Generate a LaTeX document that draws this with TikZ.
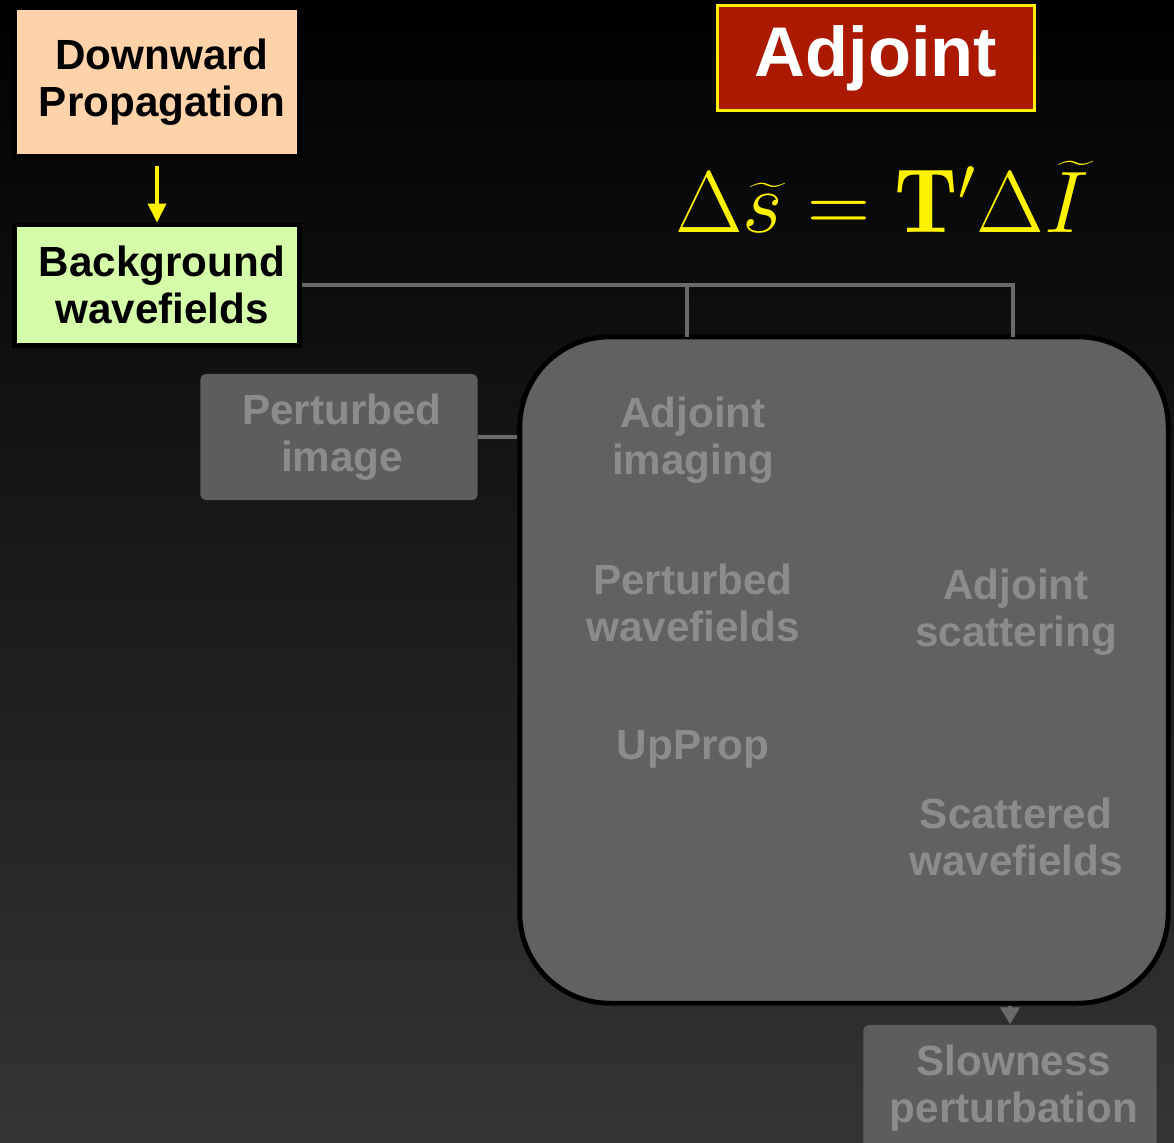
\documentclass[tikz,border=0pt]{standalone}
\usepackage{fontspec}
\newfontfamily\boxfont{Liberation Sans}
\usetikzlibrary{positioning,arrows.meta}
\definecolor{Peach}{HTML}{FFD3AA}
\definecolor{Lime}{HTML}{D5FCA9}
\definecolor{Brick}{HTML}{AA1900}
\definecolor{Ash}{HTML}{5D5D5D}
\definecolor{Slate}{HTML}{606261}
\definecolor{Fog}{HTML}{8C8C8C}
\definecolor{Wire}{HTML}{6A6A6A}
\definecolor{Floor}{HTML}{343434}

\begin{document}
\begin{tikzpicture}[x=0.01cm,y=-0.01cm,
    every node/.style={font=\boxfont\bfseries\fontsize{12}{13.4}\selectfont,align=center,inner sep=0pt},
    litbox/.style={draw=black,line width=1.4pt,minimum width=2.84cm},
    dimbox/.style={fill=Ash,rounded corners=1.5pt,text=Fog},
    link/.style={Wire,line width=1.1pt}]
    % backdrop
    \shade[top color=black,bottom color=Floor] (0,0) rectangle (1174,1142);
    \clip (0,0) rectangle (1174,1142);

    \node[litbox,fill=Peach,minimum height=1.48cm,text width=2.84cm] (dprop) at (157,82)
      {\hspace*{0.1cm}Downward\\\hspace*{0.1cm}Propagation};
    \node[litbox,fill=Lime,minimum height=1.2cm,text width=2.84cm] (bgwave) at (157,285)
      {\hspace*{0.1cm}Background\\\hspace*{0.1cm}wavefields};

    \node[fill=Brick,draw=yellow,line width=0.85pt,minimum width=3.16cm,minimum height=1.04cm,
      text=white,font=\boxfont\bfseries\fontsize{20}{24}\selectfont] (adjtitle) at (876,58) {Adjoint};
    \node[text=yellow,font=\fontsize{26}{30}\selectfont] (equ) at (882,197)
      {$\Delta\widetilde{s}=\mathbf{T}'\Delta\widetilde{I}$};

    \node[dimbox,minimum width=2.77cm,minimum height=1.26cm] (pimg) at (339,437) {\hspace*{0.06cm}Perturbed\\\hspace*{0.06cm}image};
    \node[draw=black,line width=1.4pt,fill=Slate,rounded corners=0.9cm,
      minimum width=6.48cm,minimum height=6.66cm] (bigbox) at (844,670) {};
    \foreach \name/\x/\y/\label in {adjimg/693/440/Adjoint\\imaging,pwave/693/603/Perturbed\\wavefields,
      upprop/693/749/UpProp,adjscat/1016/612/Adjoint\\scattering,swave/1016/837/Scattered\\wavefields}{
      \node[text=Fog] (\name) at (\x,\y) {\label};
    }
    \node[dimbox,minimum width=2.93cm,minimum height=1.26cm] (slow) at (1010,1088)
      {\hspace*{0.08cm}Slowness\\\hspace*{0.08cm}perturbation};

    % connectors
    \coordinate (tapL) at (687,337);
    \coordinate (tapR) at (1013,337);
    \draw[yellow,line width=1.1pt,-{Triangle[width=0.18cm,length=0.19cm]},shorten <=2pt]
      (dprop.south) -- (bgwave.north);
    \draw[link] (bgwave.east) -| (tapR);
    \draw[link] (tapL |- bgwave.east) -- (tapL);
    \draw[link] (pimg.east) -- (pimg.east -| bigbox.west);
    \draw[link,-{Triangle[width=0.19cm,length=0.17cm]}] (slow.north |- bigbox.south) -- (slow.north);
  \end{tikzpicture}
\end{document}
